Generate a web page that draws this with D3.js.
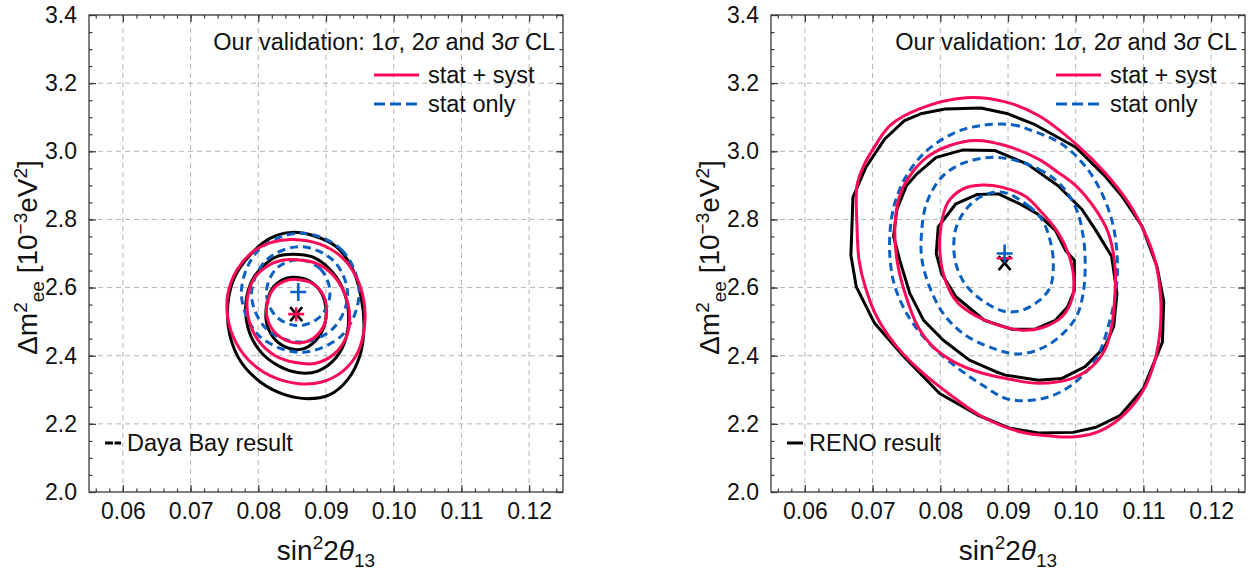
<!DOCTYPE html>
<html><head><meta charset="utf-8">
<script src="https://cdn.jsdelivr.net/npm/d3@7"></script>
<style>
body{margin:0;background:#fff;}
svg{display:block;font-family:"Liberation Sans",Arial,Helvetica,sans-serif;}
</style>
</head><body>
<svg id="chart" width="1254" height="571"></svg>
<script>
// ---------- axes / ticks ----------
const xTicks = [0.06, 0.07, 0.08, 0.09, 0.10, 0.11, 0.12];
const yTicks = [2.0, 2.2, 2.4, 2.6, 2.8, 3.0, 3.2, 3.4];
const xDomain = [0.055, 0.125];
const yDomain = [2.0, 3.4];

// ---------- Daya Bay panel (sin^2 2theta13, dm2_ee) ----------
const dybBlack1 = [[0.0851,2.630],[0.0875,2.620],[0.0893,2.585],[0.0900,2.535],[0.0897,2.485],[0.0885,2.445],[0.0866,2.420],[0.0845,2.422],[0.0826,2.445],[0.0813,2.490],[0.0812,2.545],[0.0820,2.595],[0.0835,2.622]];
const dybBlack2 = [[0.0851,2.698],[0.0880,2.690],[0.0905,2.655],[0.0924,2.600],[0.0933,2.530],[0.0930,2.455],[0.0915,2.395],[0.0888,2.355],[0.0860,2.350],[0.0830,2.370],[0.0802,2.415],[0.0785,2.480],[0.0782,2.560],[0.0792,2.625],[0.0812,2.672],[0.0830,2.693]];
const dybBlack3 = [[0.0849,2.762],[0.0885,2.750],[0.0915,2.720],[0.0938,2.660],[0.0952,2.570],[0.0956,2.480],[0.0950,2.400],[0.0932,2.330],[0.0905,2.285],[0.0873,2.274],[0.0840,2.285],[0.0805,2.320],[0.0775,2.380],[0.0758,2.460],[0.0755,2.550],[0.0765,2.630],[0.0790,2.700],[0.0818,2.745]];
const dybRed1 = [[0.0856,2.624],[0.0880,2.612],[0.0896,2.578],[0.0901,2.530],[0.0896,2.485],[0.0882,2.452],[0.0864,2.438],[0.0845,2.442],[0.0826,2.465],[0.0814,2.505],[0.0813,2.552],[0.0822,2.595],[0.0838,2.618]];
const dybRed2 = [[0.0855,2.682],[0.0885,2.672],[0.0910,2.638],[0.0928,2.580],[0.0935,2.515],[0.0930,2.455],[0.0912,2.405],[0.0885,2.378],[0.0855,2.380],[0.0825,2.400],[0.0800,2.445],[0.0786,2.505],[0.0784,2.570],[0.0795,2.630],[0.0815,2.665],[0.0835,2.680]];
const dybRed3 = [[0.0851,2.741],[0.0890,2.728],[0.0924,2.688],[0.0945,2.630],[0.0956,2.560],[0.0957,2.490],[0.0947,2.410],[0.0925,2.355],[0.0892,2.322],[0.0860,2.318],[0.0825,2.335],[0.0792,2.375],[0.0768,2.435],[0.0755,2.510],[0.0755,2.580],[0.0768,2.650],[0.0792,2.705],[0.0820,2.733]];
const dybBlue1 = [[0.0906,2.585],[0.0892,2.654],[0.0859,2.682],[0.0826,2.654],[0.0812,2.585],[0.0826,2.516],[0.0859,2.488],[0.0892,2.516]];
const dybBlue2 = [[0.0932,2.580],[0.0911,2.679],[0.0861,2.720],[0.0811,2.679],[0.0790,2.580],[0.0811,2.481],[0.0861,2.440],[0.0911,2.481]];
const dybBlue3 = [[0.0949,2.585],[0.0924,2.709],[0.0862,2.760],[0.0800,2.709],[0.0775,2.585],[0.0800,2.461],[0.0862,2.410],[0.0924,2.461]];
const dybBestBlack = [0.0856, 2.522];
const dybBestRed = [0.0856, 2.522];
const dybBestBlue = [0.0859, 2.587];

// ---------- RENO panel ----------
const renoBlack1 = [[0.0854,2.873],[0.0886,2.875],[0.0917,2.846],[0.0943,2.817],[0.0970,2.768],[0.0985,2.709],[0.0998,2.680],[0.0998,2.592],[0.0988,2.543],[0.0970,2.504],[0.0940,2.478],[0.0905,2.478],[0.0865,2.504],[0.0823,2.573],[0.0802,2.641],[0.0794,2.700],[0.0797,2.778],[0.0823,2.846]];
const renoBlack2 = [[0.0834,3.004],[0.0881,3.002],[0.0928,2.963],[0.0974,2.899],[0.1009,2.830],[0.1029,2.770],[0.1053,2.692],[0.1061,2.583],[0.1056,2.485],[0.1043,2.426],[0.1014,2.368],[0.0979,2.333],[0.0945,2.328],[0.0896,2.343],[0.0882,2.353],[0.0843,2.387],[0.0804,2.446],[0.0775,2.505],[0.0755,2.583],[0.0740,2.681],[0.0731,2.751],[0.0736,2.830],[0.0750,2.899],[0.0765,2.933],[0.0794,2.982]];
const renoBlack3 = [[0.0807,3.124],[0.0860,3.127],[0.0900,3.110],[0.0940,3.078],[0.1000,3.012],[0.1043,2.928],[0.1068,2.869],[0.1098,2.780],[0.1120,2.662],[0.1130,2.560],[0.1128,2.440],[0.1100,2.304],[0.1066,2.225],[0.1030,2.190],[0.0996,2.175],[0.0945,2.173],[0.0903,2.187],[0.0855,2.226],[0.0799,2.289],[0.0745,2.400],[0.0703,2.495],[0.0676,2.602],[0.0668,2.695],[0.0671,2.865],[0.0690,2.953],[0.0718,3.036],[0.0747,3.090],[0.0771,3.110]];
const renoRed1 = [[0.0862,2.901],[0.0892,2.894],[0.0925,2.869],[0.0950,2.820],[0.0974,2.761],[0.0989,2.701],[0.0997,2.630],[0.0995,2.570],[0.0980,2.515],[0.0950,2.482],[0.0920,2.475],[0.0882,2.492],[0.0850,2.520],[0.0825,2.557],[0.0809,2.613],[0.0800,2.690],[0.0801,2.780],[0.0811,2.849],[0.0833,2.889]];
const renoRed2 = [[0.0853,3.032],[0.0896,3.017],[0.0945,2.977],[0.0974,2.938],[0.1000,2.899],[0.1029,2.830],[0.1048,2.761],[0.1058,2.662],[0.1058,2.583],[0.1053,2.485],[0.1043,2.417],[0.1024,2.368],[0.0994,2.333],[0.0945,2.319],[0.0905,2.330],[0.0860,2.350],[0.0820,2.382],[0.0790,2.425],[0.0767,2.485],[0.0748,2.583],[0.0736,2.681],[0.0733,2.780],[0.0740,2.869],[0.0755,2.928],[0.0780,2.982],[0.0814,3.017]];
const renoRed3 = [[0.0838,3.157],[0.0896,3.145],[0.0945,3.105],[0.1000,3.022],[0.1043,2.938],[0.1078,2.849],[0.1102,2.761],[0.1117,2.681],[0.1125,2.583],[0.1125,2.485],[0.1117,2.387],[0.1100,2.299],[0.1073,2.230],[0.1038,2.181],[0.1000,2.162],[0.0960,2.165],[0.0919,2.176],[0.0862,2.221],[0.0819,2.279],[0.0775,2.348],[0.0736,2.426],[0.0706,2.515],[0.0689,2.603],[0.0680,2.681],[0.0677,2.780],[0.0677,2.899],[0.0687,2.958],[0.0701,3.007],[0.0726,3.076],[0.0770,3.125]];
const renoBlue1 = [[0.0896,2.878],[0.0930,2.840],[0.0950,2.800],[0.0962,2.740],[0.0967,2.670],[0.0962,2.600],[0.0945,2.560],[0.0920,2.533],[0.0895,2.530],[0.0862,2.562],[0.0835,2.615],[0.0821,2.690],[0.0824,2.780],[0.0845,2.845],[0.0870,2.875]];
const renoBlue2 = [[0.0886,2.982],[0.0945,2.948],[0.0979,2.899],[0.1001,2.830],[0.1011,2.751],[0.1014,2.670],[0.1011,2.583],[0.1001,2.515],[0.0979,2.461],[0.0950,2.422],[0.0915,2.405],[0.0872,2.426],[0.0833,2.466],[0.0804,2.525],[0.0784,2.603],[0.0773,2.681],[0.0772,2.751],[0.0780,2.849],[0.0804,2.928],[0.0838,2.968]];
const renoBlue3 = [[0.0862,3.076],[0.0906,3.078],[0.0935,3.061],[0.0979,3.022],[0.1009,2.968],[0.1033,2.899],[0.1053,2.800],[0.1061,2.700],[0.1060,2.600],[0.1050,2.500],[0.1030,2.390],[0.0994,2.314],[0.0960,2.279],[0.0925,2.268],[0.0896,2.275],[0.0862,2.314],[0.0823,2.368],[0.0784,2.436],[0.0753,2.515],[0.0733,2.603],[0.0726,2.681],[0.0726,2.770],[0.0733,2.849],[0.0750,2.928],[0.0780,3.002],[0.0823,3.056]];
const renoBestBlack = [0.0895, 2.672];
const renoBestRed = [0.0895, 2.686];
const renoBestBlue = [0.0895, 2.700];

// ---------- text ----------
const legendTitle = ["Our validation: 1", "σ", ", 2", "σ", " and 3", "σ", " CL"];
const legendNames = ["stat + syst", "stat only"];
const experimentNames = ["Daya Bay result", "RENO result"];

// ---------- style ----------
const RED = "#fb0a56", BLUE = "#0a5fc0", BLACK = "#000", FRAME = "#3a3a3a", GRID = "#b4b4b4";

const svg = d3.select("#chart");

function drawPanel(p) {
  const x = d3.scaleLinear().domain(xDomain).range([p.x0, p.x1]);
  const y = d3.scaleLinear().domain(yDomain).range([p.y0, p.y1]);
  const g = svg.append("g");

  // grid
  g.append("g").selectAll("line").data(xTicks).join("line")
    .attr("x1", d => x(d)).attr("x2", d => x(d)).attr("y1", p.y0).attr("y2", p.y1)
    .attr("stroke", GRID).attr("stroke-width", 1).attr("stroke-dasharray", "5,4");
  g.append("g").selectAll("line").data(yTicks.slice(1, -1)).join("line")
    .attr("y1", d => y(d)).attr("y2", d => y(d)).attr("x1", p.x0).attr("x2", p.x1)
    .attr("stroke", GRID).attr("stroke-width", 1).attr("stroke-dasharray", "5,4");

  // contours
  const smooth = d3.line().x(d => x(d[0])).y(d => y(d[1])).curve(d3.curveCatmullRomClosed.alpha(0.5));
  const poly = d3.line().x(d => x(d[0])).y(d => y(d[1])).curve(d3.curveLinearClosed);
  const cg = g.append("g").attr("fill", "none").attr("stroke-linejoin", "round");
  p.black.forEach(c => cg.append("path").attr("d", (p.blackSmooth ? smooth : poly)(c))
    .attr("stroke", BLACK).attr("stroke-width", 3));
  p.blue.forEach(c => cg.append("path").attr("d", smooth(c))
    .attr("stroke", BLUE).attr("stroke-width", 3).attr("stroke-dasharray", "8,5"));
  p.red.forEach(c => cg.append("path").attr("d", smooth(c))
    .attr("stroke", RED).attr("stroke-width", 3));

  // best-fit markers
  const mk = g.append("g").attr("stroke-width", 2.6).attr("fill", "none");
  const bx = x(p.bestBlack[0]), by = y(p.bestBlack[1]);
  mk.append("path").attr("d", `M${bx-6},${by-7}L${bx+6},${by+7}M${bx+6},${by-7}L${bx-6},${by+7}`).attr("stroke", BLACK);
  const rx = x(p.bestRed[0]), ry = y(p.bestRed[1]);
  mk.append("path").attr("d", `M${rx-8},${ry}L${rx+8},${ry}` + (p.redVertical ? `M${rx},${ry-7}L${rx},${ry+7}` : "")).attr("stroke", RED);
  const ux = x(p.bestBlue[0]), uy = y(p.bestBlue[1]);
  mk.append("path").attr("d", `M${ux-8},${uy}L${ux+8},${uy}M${ux},${uy-9}L${ux},${uy+9}`).attr("stroke", BLUE);

  // axes (ticks inside, on all sides)
  const minorX = d3.range(28, 63).map(i => +(i * 0.002).toFixed(3));
  const minorY = d3.range(40, 69).map(i => +(i * 0.05).toFixed(2));
  const axes = [
    [d3.axisBottom(x).tickValues(xTicks).tickSize(-7).tickPadding(11).tickFormat(d3.format(".2f")), `translate(0,${p.y0})`],
    [d3.axisBottom(x).tickValues(minorX).tickSize(-3.5).tickFormat(""), `translate(0,${p.y0})`],
    [d3.axisTop(x).tickValues(xTicks).tickSize(-7).tickFormat(""), `translate(0,${p.y1})`],
    [d3.axisTop(x).tickValues(minorX).tickSize(-3.5).tickFormat(""), `translate(0,${p.y1})`],
    [d3.axisLeft(y).tickValues(yTicks).tickSize(-7).tickPadding(12).tickFormat(d3.format(".1f")), `translate(${p.x0},0)`],
    [d3.axisLeft(y).tickValues(minorY).tickSize(-3.5).tickFormat(""), `translate(${p.x0},0)`],
    [d3.axisRight(y).tickValues(yTicks).tickSize(-7).tickFormat(""), `translate(${p.x1},0)`],
    [d3.axisRight(y).tickValues(minorY).tickSize(-3.5).tickFormat(""), `translate(${p.x1},0)`]
  ];
  axes.forEach(([ax, tr]) => {
    const a = g.append("g").attr("transform", tr).call(ax);
    a.select(".domain").remove();
    a.selectAll("line").attr("stroke", FRAME).attr("stroke-width", 1.2);
    a.selectAll("text").attr("fill", "#111").style("font-size", "23px").attr("font-family", null);
  });
  g.append("rect").attr("x", p.x0).attr("y", p.y1).attr("width", p.x1 - p.x0).attr("height", p.y0 - p.y1)
    .attr("fill", "none").attr("stroke", FRAME).attr("stroke-width", 1.3);

  // axis titles
  const cx = (p.x0 + p.x1) / 2;
  const xt = g.append("text").attr("x", cx).attr("y", 560).attr("text-anchor", "middle")
    .style("font-size", "28px").attr("fill", "#111");
  xt.append("tspan").text("sin");
  xt.append("tspan").text("2").attr("dy", -11).style("font-size", "19px");
  xt.append("tspan").text("2").attr("dy", 11);
  xt.append("tspan").text("θ").style("font-style", "italic");
  xt.append("tspan").text("13").attr("dy", 7).style("font-size", "19px");

  const cy = (p.y0 + p.y1) / 2;
  const yt = g.append("text").attr("transform", `translate(${p.x0 - 52},${cy + 4}) rotate(-90)`)
    .attr("text-anchor", "middle").style("font-size", "28px").attr("fill", "#111");
  yt.append("tspan").text("Δm");
  yt.append("tspan").text("2").attr("dy", -10).style("font-size", "19px");
  yt.append("tspan").text("ee").attr("dy", 17).style("font-size", "19px");
  yt.append("tspan").text(" [10").attr("dy", -7);
  yt.append("tspan").text("−3").attr("dy", -10).style("font-size", "19px");
  yt.append("tspan").text("eV").attr("dy", 10);
  yt.append("tspan").text("2").attr("dy", -10).style("font-size", "19px");
  yt.append("tspan").text("]").attr("dy", 10);

  // legend (top right)
  const lt = g.append("text").attr("x", p.x1 - 8).attr("y", 50).attr("text-anchor", "end")
    .style("font-size", "23.5px").attr("fill", "#111");
  legendTitle.forEach((s, i) => lt.append("tspan").text(s).style("font-style", i % 2 ? "italic" : "normal"));
  const lx0 = p.x1 - 189, lx1 = p.x1 - 144;
  g.append("line").attr("x1", lx0).attr("x2", lx1).attr("y1", 75).attr("y2", 75).attr("stroke", RED).attr("stroke-width", 3.2);
  g.append("line").attr("x1", lx0).attr("x2", lx1).attr("y1", 104).attr("y2", 104).attr("stroke", BLUE).attr("stroke-width", 3.2).attr("stroke-dasharray", "11,5");
  legendNames.forEach((s, i) => g.append("text").attr("x", lx1 + 9).attr("y", 75 + 29 * i).attr("dy", "0.35em")
    .style("font-size", "23.5px").attr("fill", "#111").text(s));

  // experiment legend (bottom left)
  g.append("line").attr("x1", p.x0 + 16).attr("x2", p.x0 + 32).attr("y1", 443).attr("y2", 443)
    .attr("stroke", BLACK).attr("stroke-width", 3).attr("stroke-dasharray", p.expDash || null);
  g.append("text").attr("x", p.x0 + 38).attr("y", 443).attr("dy", "0.35em").style("font-size", "23.5px")
    .attr("fill", "#111").text(p.expName);
}

drawPanel({
  x0: 89, x1: 563, y0: 492, y1: 15,
  black: [dybBlack3, dybBlack2, dybBlack1], blackSmooth: true,
  red: [dybRed3, dybRed2, dybRed1],
  blue: [dybBlue3, dybBlue2, dybBlue1],
  bestBlack: dybBestBlack, bestRed: dybBestRed, bestBlue: dybBestBlue, redVertical: true,
  expName: experimentNames[0], expDash: "8,1.5"
});
drawPanel({
  x0: 771, x1: 1245, y0: 492, y1: 15,
  black: [renoBlack3, renoBlack2, renoBlack1], blackSmooth: false,
  red: [renoRed3, renoRed2, renoRed1],
  blue: [renoBlue3, renoBlue2, renoBlue1],
  bestBlack: renoBestBlack, bestRed: renoBestRed, bestBlue: renoBestBlue, redVertical: false,
  expName: experimentNames[1]
});
</script>
</body></html>
